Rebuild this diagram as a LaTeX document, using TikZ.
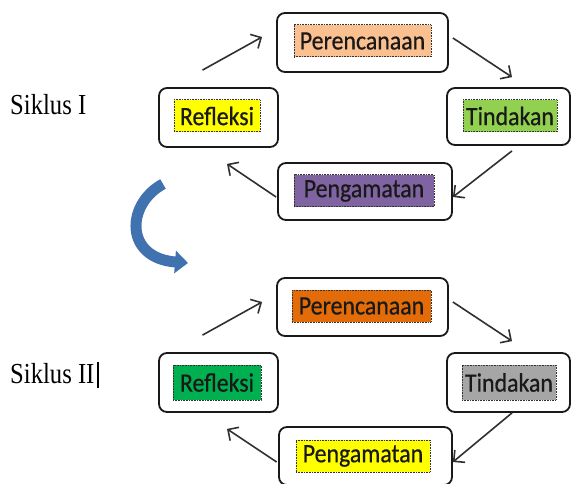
\documentclass[tikz,border=0pt]{standalone}
\usepackage{fontspec}
\setmainfont{Liberation Serif}
\newfontfamily\boxfont[FakeBold=0.6]{Carlito}
\usetikzlibrary{arrows.meta}
\definecolor{peach}{HTML}{FAC090}
\definecolor{hlyellow}{HTML}{FFFF00}
\definecolor{hlgreen}{HTML}{92D050}
\definecolor{hlpurple}{HTML}{8064A2}
\definecolor{hlorange}{HTML}{E36C09}
\definecolor{hldkgreen}{HTML}{00B050}
\definecolor{hlgray}{HTML}{A6A6A6}
\definecolor{arrowblue}{HTML}{3F72AF}
\definecolor{linegray}{HTML}{303030}
\newcommand{\boxtxt}[1]{\scalebox{0.9}[1]{#1}}
\newcommand{\sikl}[1]{\scalebox{0.85}[1]{\fontsize{29}{30}\selectfont #1}}
\begin{document}
\begin{tikzpicture}[x=1pt,y=-1pt,
  outerbox/.style={draw=black!90, line width=1.8pt, rounded corners=8pt, fill=white, inner sep=0pt},
  hl/.style={fill=#1, draw=black!80, dash pattern=on 0.8pt off 0.8pt, line width=1pt,
    inner sep=0pt, font=\boxfont\fontsize{26.5}{28}\selectfont, text=black!90},
  flow/.style={draw=linegray, line width=1.6pt, -{Straight Barb[length=8pt,width=16pt,line width=1.6pt]}},
  bigarrow/.style={draw=arrowblue, line width=11pt, -{Triangle[length=13pt,width=22pt]}}
]
\useasboundingbox (0,0) rectangle (571,484);

% ---------- Siklus I ----------
\node[anchor=base west, inner sep=0pt] (s1) at (10,115) {\sikl{Siklus I}};

\node[outerbox, minimum width=171pt, minimum height=59pt] (p1) at (362.5,42.5) {};
\node[outerbox, minimum width=119pt, minimum height=59pt] (r1) at (218.5,117.5) {};
\node[outerbox, minimum width=123pt, minimum height=57pt] (t1) at (508.5,116.5) {};
\node[outerbox, minimum width=174pt, minimum height=57pt] (g1) at (365,191.5) {};

\node[hl=peach, minimum width=137pt, minimum height=32pt] (p1t) at (362.5,41) {\boxtxt{Perencanaan}};
\node[hl=hlyellow, minimum width=86pt, minimum height=32pt] (r1t) at (217,116) {\boxtxt{Refleksi}};
\node[hl=hlgreen, minimum width=94pt, minimum height=32pt] (t1t) at (510,116) {\boxtxt{Tindakan}};
\node[hl=hlpurple, minimum width=140pt, minimum height=32pt] (g1t) at (364,191) {\boxtxt{Pengamatan}};

\draw[flow] ([xshift=-16pt,yshift=17pt]r1.north) -- ([xshift=-14pt,yshift=5.5pt]p1.west);
\draw[flow] ([xshift=4pt,yshift=4.5pt]p1.east) -- ([xshift=3.5pt,yshift=10pt]t1.north);
\draw[flow] ([xshift=3.5pt,yshift=-5pt]t1.south) -- ([yshift=-5.5pt]g1.east);
\draw[flow] ([xshift=-1pt,yshift=-5.5pt]g1.west) -- ([xshift=8.5pt,yshift=-16pt]r1.south);

% ---------- curved transition arrow ----------
\coordinate (ba) at (163,184);
\coordinate (bb) at (188,263);
\draw[bigarrow] (ba) .. controls (126,204) and (124,258) .. (bb);

% ---------- Siklus II ----------
\node[anchor=base west, inner sep=0pt] (s2) at (10,383) {\sikl{Siklus II}};
\coordinate (cur1) at (97.5,362);
\coordinate (cur2) at (97.5,388);
\draw[line width=2pt, black] (cur1) -- (cur2);

\node[outerbox, minimum width=171pt, minimum height=58pt] (p2) at (362.5,307) {};
\node[outerbox, minimum width=119pt, minimum height=59pt] (r2) at (218.5,382.5) {};
\node[outerbox, minimum width=123pt, minimum height=59pt] (t2) at (508.5,382.5) {};
\node[outerbox, minimum width=173pt, minimum height=58pt] (g2) at (365.5,456) {};

\node[hl=hlorange, minimum width=139pt, minimum height=32pt] (p2t) at (361.5,306) {\boxtxt{Perencanaan}};
\node[hl=hldkgreen, minimum width=88pt, minimum height=35pt] (r2t) at (217,382.5) {\boxtxt{Refleksi}};
\node[hl=hlgray, minimum width=94pt, minimum height=35pt] (t2t) at (509,382.5) {\boxtxt{Tindakan}};
\node[hl=hlyellow, minimum width=134pt, minimum height=32pt] (g2t) at (363,456) {\boxtxt{Pengamatan}};

\draw[flow] ([xshift=-16pt,yshift=17pt]r2.north) -- ([xshift=-14pt,yshift=5pt]p2.west);
\draw[flow] ([xshift=4pt,yshift=5pt]p2.east) -- ([xshift=3.5pt,yshift=11pt]t2.north);
\draw[flow] ([xshift=3.5pt,yshift=0pt]t2.south) -- ([yshift=-6pt]g2.east);
\draw[flow] ([xshift=-1.5pt,yshift=-6pt]g2.west) -- ([xshift=8.5pt,yshift=-16pt]r2.south);
\end{tikzpicture}
\end{document}
